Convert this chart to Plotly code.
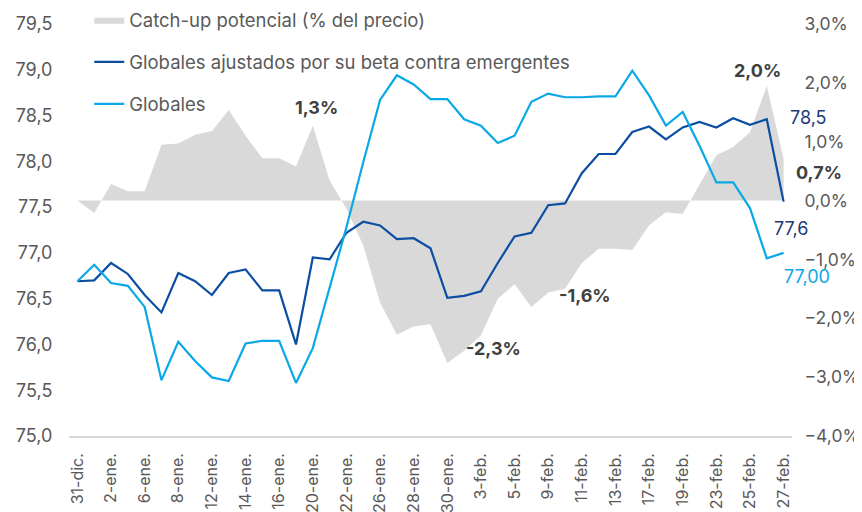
import plotly.graph_objects as go

fechas = ["31-dic.", "1-ene.", "2-ene.", "5-ene.", "6-ene.", "7-ene.", "8-ene.", "9-ene.",
          "12-ene.", "13-ene.", "14-ene.", "15-ene.", "16-ene.", "19-ene.", "20-ene.",
          "21-ene.", "22-ene.", "23-ene.", "26-ene.", "27-ene.", "28-ene.", "29-ene.",
          "30-ene.", "2-feb.", "3-feb.", "4-feb.", "5-feb.", "6-feb.", "9-feb.", "10-feb.",
          "11-feb.", "12-feb.", "13-feb.", "16-feb.", "17-feb.", "18-feb.", "19-feb.",
          "20-feb.", "23-feb.", "24-feb.", "25-feb.", "26-feb.", "27-feb."]

globales_ajustados = [76.69, 76.70, 76.89, 76.77, 76.54, 76.35, 76.78, 76.69, 76.54, 76.78,
                      76.82, 76.59, 76.59, 76.00, 76.95, 76.93, 77.22, 77.34, 77.30, 77.15,
                      77.16, 77.05, 76.51, 76.53, 76.58, 76.89, 77.18, 77.22, 77.52, 77.54,
                      77.87, 78.08, 78.08, 78.32, 78.38, 78.24, 78.37, 78.43, 78.37, 78.47,
                      78.40, 78.46, 77.56]

globales = [76.69, 76.87, 76.67, 76.64, 76.41, 75.61, 76.03, 75.82, 75.64, 75.60,
            76.01, 76.04, 76.04, 75.58, 75.96, 76.61, 77.28, 77.99, 78.67, 78.94,
            78.84, 78.68, 78.68, 78.46, 78.39, 78.20, 78.28, 78.65, 78.74, 78.70,
            78.70, 78.71, 78.71, 78.99, 78.72, 78.39, 78.54, 78.17, 77.77, 77.77,
            77.49, 76.94, 77.00]

catch_up = [0.00, -0.21, 0.28, 0.16, 0.16, 0.95, 0.97, 1.12, 1.18, 1.54,
            1.10, 0.72, 0.72, 0.58, 1.27, 0.34, -0.14, -0.76, -1.73, -2.28,
            -2.14, -2.10, -2.76, -2.55, -2.29, -1.67, -1.42, -1.81, -1.56, -1.50,
            -1.06, -0.82, -0.82, -0.84, -0.42, -0.20, -0.23, 0.28, 0.77, 0.91,
            1.16, 1.95, 0.71]

tick_fechas = fechas[::2]

# labels: (index, text)
etiquetas_catch = [(14, "1,3%"), (41, "2,0%"), (42, "0,7%"), (24, "-2,3%"), (28, "-1,6%")]
etiquetas_ajust = [(41, "78,5"), (42, "77,6")]
etiquetas_glob = [(42, "77,00")]

FONT = "Inter"
GRAY_TXT = "#595959"
DARK = "#0B4EA2"
LIGHT = "#0AA8E6"
AREA = "#D9D9D9"

fig = go.Figure()
fig.add_trace(go.Scatter(
    x=fechas, y=catch_up, name="Catch-up potencial (% del precio)",
    fill="tozeroy", fillcolor=AREA, mode="lines", line=dict(width=0, color=AREA),
    yaxis="y", legendgroup="a"))
fig.add_trace(go.Scatter(
    x=fechas, y=globales_ajustados, name="Globales ajustados por su beta contra emergentes",
    mode="lines", line=dict(width=2.2, color=DARK), yaxis="y2", legendgroup="b"))
fig.add_trace(go.Scatter(
    x=fechas, y=globales, name="Globales",
    mode="lines", line=dict(width=2.2, color=LIGHT), yaxis="y2", legendgroup="c"))

ann = []
shifts_catch = {14: (4, 18), 41: (-9, 15), 42: (35, -14), 24: (13, -13), 28: (37, -3)}
for i, t in etiquetas_catch:
    dx, dy = shifts_catch[i]
    ann.append(dict(x=fechas[i], y=catch_up[i], yref="y", text="<b>" + t + "</b>",
                    showarrow=False, xshift=dx, yshift=dy,
                    font=dict(family=FONT, size=18, color="#404040")))
shifts_ajust = {41: (42, 2), 42: (7, -27)}
for i, t in etiquetas_ajust:
    dx, dy = shifts_ajust[i]
    ann.append(dict(x=fechas[i], y=globales_ajustados[i], yref="y2", text=t,
                    showarrow=False, xshift=dx, yshift=dy,
                    font=dict(family=FONT, size=18, color="#1B3A78")))
for i, t in etiquetas_glob:
    ann.append(dict(x=fechas[i], y=globales[i], yref="y2", text=t,
                    showarrow=False, xshift=23, yshift=-24,
                    font=dict(family=FONT, size=18, color=LIGHT)))

fig.update_layout(
    width=862, height=512,
    margin=dict(l=61, r=78, t=16, b=84, autoexpand=False),
    paper_bgcolor="white", plot_bgcolor="white",
    separators=", ",
    font=dict(family=FONT, size=16, color=GRAY_TXT),
    showlegend=True,
    legend=dict(x=0.028, y=1.055, xanchor="left", yanchor="top",
                bgcolor="rgba(0,0,0,0)", traceorder="grouped", tracegroupgap=15,
                font=dict(family=FONT, size=18.5, color=GRAY_TXT)),
    xaxis=dict(type="category", range=[-0.5, 42.5], tickmode="array",
               tickvals=tick_fechas, ticktext=tick_fechas, tickangle=-90,
               showgrid=False, showline=True, linecolor="#D9D9D9", linewidth=1.5,
               ticks="outside", ticklen=9, tickcolor="rgba(0,0,0,0)",
               tickfont=dict(family=FONT, size=16, color=GRAY_TXT), zeroline=False),
    yaxis=dict(side="right", range=[-4, 3], dtick=1, tickformat=".1f", ticksuffix="%",
               showgrid=False, zeroline=False, showline=False,
               ticks="outside", ticklen=8, tickcolor="rgba(0,0,0,0)",
               tickfont=dict(family=FONT, size=17.5, color=GRAY_TXT)),
    yaxis2=dict(side="left", overlaying="y", range=[75, 79.5], dtick=0.5, tickformat=".1f",
                showgrid=False, zeroline=False, showline=False,
                ticks="outside", ticklen=12, tickcolor="rgba(0,0,0,0)",
                tickfont=dict(family=FONT, size=18, color=GRAY_TXT)),
    annotations=ann,
)

fig.write_html("out.html")
